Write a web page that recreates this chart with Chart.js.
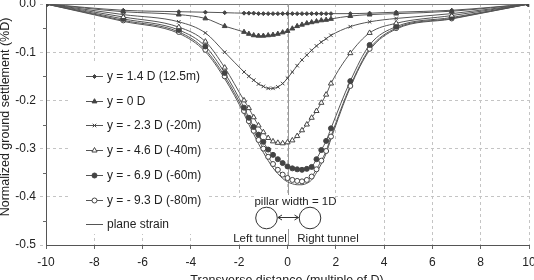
<!DOCTYPE html>
<html><head><meta charset="utf-8">
<script src="https://cdn.jsdelivr.net/npm/chart.js@4/dist/chart.umd.min.js"></script>
<style>html,body{margin:0;padding:0;background:#fff;}#wrap{width:534px;height:280px;}</style>
</head><body><div id="wrap"><canvas id="c" width="534" height="280"></canvas></div>
<script>
// ---- data ----
const xPositions = [-10, -6.8, -4.5, -3.4, -2.6, -1.8, -1.6, -1.4, -1.2, -1.0, -0.8, -0.6, -0.4, -0.2, 0, 0.2, 0.4, 0.6, 0.8, 1.0, 1.2, 1.4, 1.6, 1.8, 2.6, 3.4, 4.5, 6.8, 10];
const seriesLabels = ['y = 1.4 D (12.5m)', 'y = 0 D', 'y = - 2.3 D (-20m)', 'y = - 4.6 D (-40m)', 'y = - 6.9 D (-60m)', 'y = - 9.3 D (-80m)', 'plane strain'];
const settleY14 = [0, -0.013, -0.016, -0.017, -0.018, -0.019, -0.019, -0.019, -0.020, -0.020, -0.020, -0.020, -0.020, -0.020, -0.020, -0.020, -0.020, -0.020, -0.020, -0.020, -0.020, -0.020, -0.020, -0.020, -0.020, -0.019, -0.017, -0.013, 0];
const settleY0 = [0, -0.016, -0.022, -0.030, -0.046, -0.058, -0.062, -0.065, -0.066, -0.066, -0.065, -0.064, -0.062, -0.059, -0.056, -0.051, -0.046, -0.043, -0.040, -0.038, -0.036, -0.034, -0.033, -0.031, -0.025, -0.022, -0.020, -0.015, 0];
const settleYm23 = [0, -0.022, -0.037, -0.060, -0.100, -0.141, -0.150, -0.158, -0.166, -0.171, -0.175, -0.175, -0.172, -0.165, -0.154, -0.141, -0.128, -0.116, -0.106, -0.096, -0.087, -0.079, -0.072, -0.065, -0.047, -0.037, -0.030, -0.020, 0];
const settleYm46 = [0, -0.027, -0.048, -0.078, -0.132, -0.200, -0.216, -0.235, -0.252, -0.266, -0.278, -0.285, -0.288, -0.289, -0.287, -0.283, -0.274, -0.262, -0.250, -0.236, -0.222, -0.205, -0.188, -0.165, -0.102, -0.060, -0.040, -0.024, 0];
const settleYm69 = [0, -0.031, -0.054, -0.088, -0.143, -0.215, -0.236, -0.255, -0.271, -0.286, -0.302, -0.313, -0.322, -0.330, -0.337, -0.341, -0.343, -0.344, -0.342, -0.338, -0.322, -0.303, -0.284, -0.258, -0.160, -0.085, -0.047, -0.028, 0];
const settleYm93 = [0, -0.034, -0.058, -0.095, -0.150, -0.222, -0.243, -0.263, -0.282, -0.300, -0.317, -0.332, -0.344, -0.354, -0.361, -0.365, -0.367, -0.368, -0.365, -0.358, -0.343, -0.325, -0.305, -0.275, -0.170, -0.093, -0.050, -0.030, 0];
const settlePlane = [0, -0.036, -0.061, -0.099, -0.155, -0.228, -0.250, -0.270, -0.290, -0.308, -0.325, -0.340, -0.352, -0.362, -0.369, -0.373, -0.375, -0.375, -0.372, -0.365, -0.350, -0.332, -0.310, -0.280, -0.173, -0.096, -0.052, -0.031, 0];
const xTickValues = [-10, -8, -6, -4, -2, 0, 2, 4, 6, 8, 10];
const yTickValues = [0, -0.1, -0.2, -0.3, -0.4, -0.5];
const yMinorTicks = [-0.05, -0.15, -0.25, -0.35, -0.45];
const xTitle = 'Transverse distance (multiple of D)';
const yTitle = 'Normalized ground settlement (%D)';
const annoPillar = 'pillar width = 1D';
const annoLeft = 'Left tunnel';
const annoRight = 'Right tunnel';

// ---- styles ----
const FONT = '"Liberation Sans", Arial, Helvetica, sans-serif';
const LINE = '#555';
const styles = [
  {pointStyle: 'rectRot', radius: 2, bg: '#444'},
  {pointStyle: 'triangle', radius: 2.8, bg: '#444'},
  {pointStyle: 'crossRot', radius: 2.5, bg: '#555'},
  {pointStyle: 'triangle', radius: 3, bg: '#fff'},
  {pointStyle: 'circle', radius: 2.5, bg: '#444'},
  {pointStyle: 'circle', radius: 2.5, bg: '#fff'},
  {pointStyle: 'circle', radius: 0, bg: '#fff'}
];
const allSeries = [settleY14, settleY0, settleYm23, settleYm46, settleYm69, settleYm93, settlePlane];

const datasets = allSeries.map((vals, i) => ({
  label: seriesLabels[i],
  data: xPositions.map((x, k) => ({x: x, y: vals[k]})),
  borderColor: LINE,
  borderWidth: 1,
  pointStyle: styles[i].pointStyle,
  pointRadius: styles[i].radius,
  pointHoverRadius: styles[i].radius,
  pointBackgroundColor: styles[i].bg,
  pointBorderColor: '#444',
  pointBorderWidth: 1,
  cubicInterpolationMode: 'monotone',
  fill: false
}));

function hline(ctx, x1, x2, y) { ctx.beginPath(); ctx.moveTo(x1, y); ctx.lineTo(x2, y); ctx.stroke(); }
function vline(ctx, x, y1, y2) { ctx.beginPath(); ctx.moveTo(x, y1); ctx.lineTo(x, y2); ctx.stroke(); }

function drawMarker(ctx, ds, x, y) {
  if (!ds.pointRadius) return;
  ctx.save();
  ctx.fillStyle = ds.pointBackgroundColor;
  ctx.strokeStyle = ds.pointBorderColor;
  ctx.lineWidth = 1;
  if (Chart.helpers && Chart.helpers.drawPoint) {
    Chart.helpers.drawPoint(ctx, {pointStyle: ds.pointStyle, radius: ds.pointRadius, borderWidth: 1, rotation: 0}, x, y);
  } else {
    ctx.beginPath(); ctx.arc(x, y, ds.pointRadius, 0, Math.PI * 2); ctx.fill(); ctx.stroke();
  }
  ctx.restore();
}

const decor = {
  id: 'decor',
  beforeDatasetsDraw(chart) {
    const {ctx, chartArea: a, scales: {x, y}} = chart;
    ctx.save();
    ctx.lineWidth = 1;
    ctx.strokeStyle = '#777';
    hline(ctx, a.left, a.right, Math.round(y.getPixelForValue(0)) + 0.5);
    const x0 = Math.round(x.getPixelForValue(0)) + 0.5;
    ctx.strokeStyle = '#999';
    vline(ctx, x0, a.top, a.bottom);
    // legend background
    ctx.fillStyle = '#fff';
    ctx.fillRect(a.left + 24, 62, 138, 172);
    // annotation background
    ctx.fillRect(232, 198, 126, 45);
    ctx.fillRect(257, 195, 78, 12);
    ctx.strokeStyle = '#999';
    vline(ctx, x0, 229, a.bottom);
    ctx.restore();
  },
  afterDraw(chart) {
    const {ctx, chartArea: a} = chart;
    ctx.save();
    // minor y ticks
    const ys = chart.scales.y;
    ctx.strokeStyle = '#666'; ctx.lineWidth = 1;
    yMinorTicks.forEach(v => { const p = Math.round(ys.getPixelForValue(v)) + 0.5; hline(ctx, a.left - 3, a.left + 1, p); });
    // legend
    const rowY0 = 76, rowStep = 24.7;
    ctx.font = '12px ' + FONT;
    ctx.textBaseline = 'middle';
    ctx.textAlign = 'left';
    chart.data.datasets.forEach((ds, i) => {
      const yy = Math.round(rowY0 + i * rowStep) + 0.5;
      ctx.strokeStyle = LINE; ctx.lineWidth = 1;
      hline(ctx, 86, 103, yy);
      drawMarker(ctx, ds, 94.5, yy);
      ctx.fillStyle = '#222';
      ctx.fillText(ds.label, 107, yy + 0.5);
    });
    // annotation
    ctx.font = '11.5px ' + FONT;
    ctx.textAlign = 'center';
    ctx.fillStyle = '#222';
    ctx.fillText(annoPillar, 295.5, 201.5);
    ctx.fillText(annoLeft, 260, 238.5);
    ctx.fillText(annoRight, 328, 238.5);
    ctx.strokeStyle = '#333'; ctx.lineWidth = 1;
    ctx.beginPath(); ctx.arc(266.5, 218, 10.8, 0, Math.PI * 2); ctx.stroke();
    ctx.beginPath(); ctx.arc(310, 218, 10.8, 0, Math.PI * 2); ctx.stroke();
    // double arrow
    const ay = 217.5, ax1 = 278, ax2 = 298.5;
    hline(ctx, ax1, ax2, ay);
    ctx.beginPath(); ctx.moveTo(ax1 + 4, ay - 2.5); ctx.lineTo(ax1, ay); ctx.lineTo(ax1 + 4, ay + 2.5); ctx.stroke();
    ctx.beginPath(); ctx.moveTo(ax2 - 4, ay - 2.5); ctx.lineTo(ax2, ay); ctx.lineTo(ax2 - 4, ay + 2.5); ctx.stroke();
    // axis titles
    ctx.fillStyle = '#222';
    ctx.font = '12.5px ' + FONT;
    ctx.textAlign = 'center';
    ctx.textBaseline = 'top';
    ctx.fillText(xTitle, 287, 274);
    ctx.save();
    ctx.translate(6, 117);
    ctx.rotate(-Math.PI / 2);
    ctx.textBaseline = 'middle';
    ctx.fillText(yTitle, 0, 0);
    ctx.restore();
    ctx.restore();
  }
};

new Chart(document.getElementById('c'), {
  type: 'line',
  data: {datasets: datasets},
  plugins: [decor],
  options: {
    responsive: false,
    devicePixelRatio: 1,
    animation: false,
    events: [],
    layout: {padding: {left: 0, top: 4, right: 5, bottom: 0}},
    plugins: {legend: {display: false}, tooltip: {enabled: false}, title: {display: false}},
    scales: {
      x: {
        type: 'linear', min: -10, max: 10,
        afterBuildTicks: s => { s.ticks = xTickValues.map(v => ({value: v})); },
        afterFit: s => { s.height = 35; s.paddingLeft = 0; s.paddingRight = 0; },
        ticks: {color: '#222', font: {family: FONT, size: 12}, padding: 6, maxRotation: 0, autoSkip: false},
        grid: {color: '#c4c4c4', lineWidth: 1, tickLength: 4, tickColor: '#666'},
        border: {color: '#555', width: 1, dash: [3, 3]}
      },
      y: {
        min: -0.5, max: 0,
        afterBuildTicks: s => { s.ticks = yTickValues.map(v => ({value: v})); },
        afterFit: s => { s.width = 46; s.paddingTop = 0; s.paddingBottom = 0; },
        ticks: {color: '#222', font: {family: FONT, size: 12}, padding: 4, callback: v => Number(v).toFixed(1)},
        grid: {color: '#c4c4c4', lineWidth: 1, tickLength: 6, tickColor: '#c4c4c4', tickBorderDash: [3, 3]},
        border: {color: '#555', width: 1, dash: [3, 3]}
      }
    }
  }
});
</script></body></html>
